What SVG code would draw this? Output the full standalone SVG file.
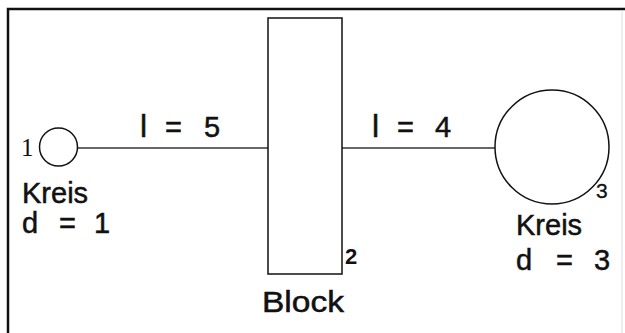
<svg xmlns="http://www.w3.org/2000/svg" width="625" height="333" viewBox="0 0 625 333">
<style>
.sh{fill:none;stroke:#111;stroke-width:1.5}
.con{stroke:#333;stroke-width:1.3}
.t{font-family:"Liberation Sans",Arial,sans-serif;font-size:29px;fill:#111;stroke:#111;stroke-width:0.5}
.n{font-family:"Liberation Sans",Arial,sans-serif;font-size:22px;font-weight:bold;fill:#111}
.s{font-family:"Liberation Serif","Times New Roman",serif;font-size:25px;fill:#111}
</style>
<rect x="0" y="0" width="625" height="333" fill="#fff"/>
<g id="frame">
<path d="M8,333 V9 H625" fill="none" stroke="#111" stroke-width="2.5"/>
<line x1="622" y1="10" x2="622" y2="333" stroke="#ddd" stroke-width="1"/>
</g>
<g id="connectors">
<line class="con" x1="78" y1="148" x2="268" y2="148"/>
<text class="t" y="137"><tspan x="140" style="font-size:32px">l</tspan><tspan x="165">=</tspan><tspan x="204">5</tspan></text>
<line class="con" x1="342" y1="148" x2="495" y2="148"/>
<text class="t" y="137"><tspan x="372" style="font-size:32px">l</tspan><tspan x="397">=</tspan><tspan x="435">4</tspan></text>
</g>
<g id="node1">
<circle class="sh" cx="58.5" cy="147" r="19"/>
<text class="s" x="21" y="156">1</text>
<text class="t" x="22" y="203">Kreis</text>
<text class="t" y="233"><tspan x="22">d</tspan><tspan x="59">=</tspan><tspan x="94">1</tspan></text>
</g>
<g id="node2">
<rect class="sh" x="268" y="18" width="74" height="256"/>
<text class="n" x="345" y="264">2</text>
<text class="t" x="262" y="312" textLength="82" lengthAdjust="spacingAndGlyphs">Block</text>
</g>
<g id="node3">
<circle class="sh" cx="552" cy="147" r="57"/>
<text class="t" x="596" y="198" style="font-size:21px;stroke-width:0.3">3</text>
<text class="t" x="516" y="235">Kreis</text>
<text class="t" y="270"><tspan x="516">d</tspan><tspan x="556">=</tspan><tspan x="594">3</tspan></text>
</g>
</svg>
